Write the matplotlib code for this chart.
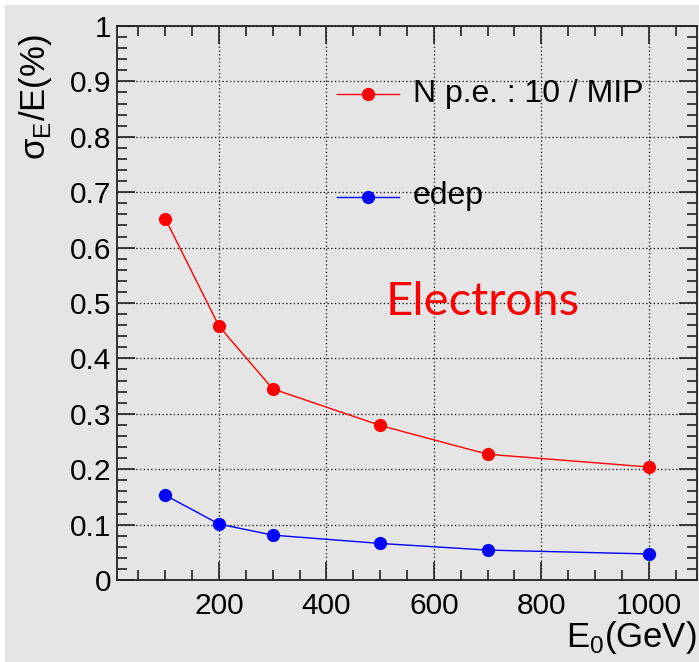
import matplotlib
matplotlib.use('Agg')
import matplotlib.pyplot as plt
from matplotlib.patches import Rectangle
from matplotlib.ticker import MultipleLocator

plt.rcParams['font.family'] = ['Liberation Sans', 'DejaVu Sans']
plt.rcParams['mathtext.fontset'] = 'custom'
plt.rcParams['mathtext.rm'] = 'Liberation Sans'

# ─── DATA ─────────────────────────────────────────────────────────────────────
energy   = [100, 200, 300, 500, 700, 1000]
res_npe  = [0.652, 0.458, 0.345, 0.279, 0.227, 0.204]
res_edep = [0.153, 0.101, 0.081, 0.066, 0.054, 0.047]
label_npe  = "N p.e. : 10 / MIP"
label_edep = "edep"
y_ticks  = [0, 0.1, 0.2, 0.3, 0.4, 0.5, 0.6, 0.7, 0.8, 0.9, 1.0]
y_labels = ['0', '0.1', '0.2', '0.3', '0.4', '0.5', '0.6', '0.7', '0.8', '0.9', '1']
x_ticks  = [200, 400, 600, 800, 1000]

BG = '#e5e5e5'

# ─── FIGURE ───────────────────────────────────────────────────────────────────
W, H = 699, 662
fig = plt.figure(figsize=(W / 100, H / 100), dpi=100, facecolor='white')
fig.patches.append(Rectangle((5 / W, 0), 1 - 5 / W, 1 - 5 / H, transform=fig.transFigure,
                             facecolor=BG, edgecolor='none', zorder=-10))

ax = fig.add_axes([117 / W, 82 / H, (697 - 117) / W, (580 - 26) / H])
ax.set_facecolor(BG)

ax.plot(energy, res_npe, color='#ff0000', lw=1.0, marker='o', ms=8.5, mec='#ff0000', zorder=3)
ax.plot(energy, res_edep, color='#0000ff', lw=1.0, marker='o', ms=8.5, mec='#0000ff', zorder=3)

ax.set_xlim(10, 1090)
ax.set_ylim(0, 1)
ax.xaxis.set_minor_locator(MultipleLocator(50))
ax.yaxis.set_minor_locator(MultipleLocator(0.02))
ax.set_yticks(y_ticks)
ax.set_yticklabels(y_labels)
ax.set_xticks(x_ticks)

ax.tick_params(which='both', direction='in', top=True, right=True, color='#222222', width=1.2,
               labelsize=21.5)
ax.tick_params(which='major', length=13)
ax.tick_params(which='minor', length=7)
ax.tick_params(axis='y', pad=4)
ax.tick_params(axis='x', pad=9)
for s in ax.spines.values():
    s.set_color('#222222')
    s.set_linewidth(1.3)

ax.grid(True, which='major', color='black', linestyle=(0, (1, 2)), linewidth=0.9)
ax.set_axisbelow(True)

# axis titles (right / top aligned like ROOT)
fig.text(697 / W, 1 - 637 / H, r'E$_\mathregular{0}$(GeV)', fontsize=25, ha='right', va='center')
fig.text(35 / W, 1 - 34 / H, r'σ$_\mathregular{E}$/E(%)', fontsize=25, ha='center', va='top',
         rotation=90)

# legend drawn by hand in data coords
leg_x0, leg_x1, leg_xm = 420, 536, 477
for yv, col in [(0.877, '#ff0000'), (0.691, '#0000ff')]:
    ax.plot([leg_x0, leg_x1], [yv, yv], color=col, lw=1.0, zorder=4)
    ax.plot([leg_xm], [yv], 'o', color=col, ms=8.5, zorder=4)

fig.text(413 / W, 1 - 94 / H, label_npe, fontsize=23, ha='left', va='center')
fig.text(413 / W, 1 - 196 / H, label_edep, fontsize=23, ha='left', va='center')

fig.text(483 / W, 1 - 302 / H, 'Electrons', fontsize=34, color='#ff0000', ha='center',
         va='center', family=['Lato', 'DejaVu Sans'])

fig.savefig('out.png', dpi=100, facecolor='white')
